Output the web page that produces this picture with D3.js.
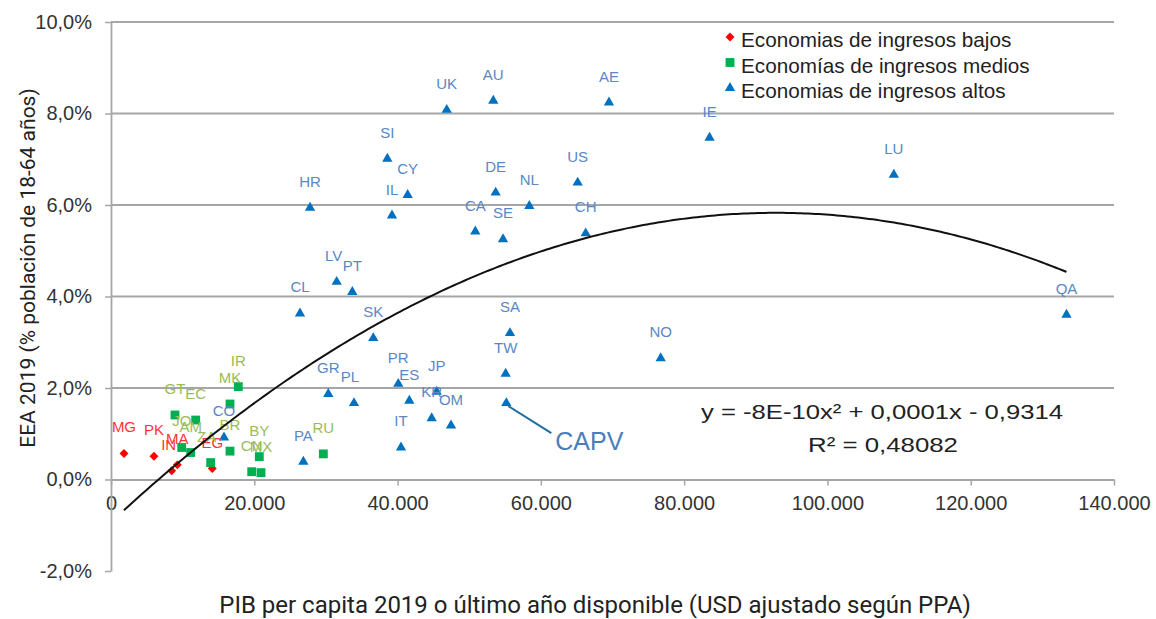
<!DOCTYPE html>
<html>
<head>
<meta charset="utf-8">
<script src="https://cdn.jsdelivr.net/npm/d3@7"></script>
<style>
  html, body { margin: 0; padding: 0; background: #fff; }
  svg { display: block; }
</style>
</head>
<body>
<svg id="chart" width="1156" height="619"></svg>
<script>
// Economías de ingresos bajos
const lowCodes = ["MG", "PK", "MA", "IN", "EG"];
const lowGdp   = [1810, 6000, 9260, 8470, 14140];
const lowEea   = [0.57, 0.51, 0.32, 0.19, 0.24];

// Economías de ingresos medios
const midCodes = ["GT", "EC", "IR", "MK", "JO", "AM", "ZA", "BR", "BY", "CN", "MX", "RU"];
const midGdp   = [8930, 11820, 17770, 16610, 9870, 11120, 13910, 16610, 20700, 19640, 20940, 29640];
const midEea   = [1.41, 1.30, 2.03, 1.65, 0.70, 0.59, 0.37, 0.62, 0.50, 0.17, 0.15, 0.56];

// Economías de ingresos altos
const highCodes = ["UK", "AU", "AE", "IE", "SI", "CY", "IL", "HR", "DE", "NL", "US", "LU",
                   "CA", "SE", "CH", "LV", "PT", "CL", "SK", "QA", "SA", "NO", "TW", "PR",
                   "JP", "GR", "ES", "PL", "KR", "OM", "IT", "CO", "PA"];
const highGdp   = [46860, 53360, 69510, 83550, 38570, 41410, 39220, 27780, 53690, 58390, 65140, 109270,
                   50850, 54720, 66260, 31500, 33680, 26380, 36610, 133370, 55690, 76730, 55090, 40100,
                   45460, 30330, 41640, 33920, 44760, 47460, 40480, 15770, 26850];
const highEea   = [8.08, 8.28, 8.24, 7.47, 7.01, 6.22, 5.77, 5.94, 6.27, 5.98, 6.49, 6.66,
                   5.42, 5.25, 5.38, 4.32, 4.10, 3.63, 3.09, 3.60, 3.20, 2.65, 2.31, 2.09,
                   1.92, 1.87, 1.72, 1.67, 1.34, 1.18, 0.70, 0.92, 0.39];

// Comunidad Autónoma del País Vasco
const capvName = "CAPV";
const capvGdp  = 55180;
const capvEea  = 1.67;

// Tendencia polinómica de grado 2 (y en %, x en USD)
const trendA = -7.85e-10;
const trendB = 1.457e-4;
const trendC = -0.9314;
const trendR2 = 0.48082;

const xTicks = [0, 20000, 40000, 60000, 80000, 100000, 120000, 140000];
const yTicks = [-2, 0, 2, 4, 6, 8, 10];

const legendLabels = ["Economias de ingresos bajos", "Economías de ingresos medios", "Economias de ingresos altos"];

// ---------------------------------------------------------------
const svg = d3.select("#chart");
const esLocale = d3.formatLocale({ decimal: ",", thousands: ".", grouping: [3], currency: ["", "€"], minus: "-" });
const fmtX = esLocale.format(",");
const fmtY = v => esLocale.format(".1f")(v) + "%";

const x = d3.scaleLinear().domain([0, 140000]).range([111, 1114]);
const y = d3.scaleLinear().domain([-2, 10]).range([571, 22]);

const gridColor = "#a6a6a6";
const axisFont = "'Liberation Sans', Arial, sans-serif";
const titleFont = "Roboto, 'Liberation Sans', sans-serif";

// Horizontal gridlines
svg.append("g")
  .selectAll("line")
  .data(yTicks.filter(v => v > 0))
  .join("line")
  .attr("x1", x(0)).attr("x2", x(140000))
  .attr("y1", d => y(d)).attr("y2", d => y(d))
  .attr("stroke", gridColor).attr("stroke-width", 1.8);

// X axis on the zero line
const xAxis = svg.append("g")
  .attr("transform", `translate(0,${y(0)})`)
  .call(d3.axisBottom(x).tickValues(xTicks).tickFormat(d => fmtX(d)).tickSize(6).tickSizeOuter(0).tickPadding(10));
xAxis.select(".domain").attr("stroke", gridColor).attr("stroke-width", 1.8);
xAxis.selectAll(".tick line").attr("stroke", gridColor).attr("stroke-width", 1.5);
xAxis.selectAll(".tick text")
  .attr("font-family", axisFont).attr("font-size", 20).attr("fill", "#333");

// Y axis
const yAxis = svg.append("g")
  .attr("transform", `translate(${x(0)},0)`)
  .call(d3.axisLeft(y).tickValues(yTicks).tickFormat(fmtY).tickSize(6).tickSizeOuter(0).tickPadding(13));
yAxis.select(".domain").attr("stroke", gridColor).attr("stroke-width", 1.8);
yAxis.selectAll(".tick line").attr("stroke", gridColor).attr("stroke-width", 1.5);
yAxis.selectAll(".tick text")
  .attr("font-family", axisFont).attr("font-size", 20).attr("fill", "#333");

// Axis titles
svg.append("text")
  .attr("x", 595).attr("y", 613)
  .attr("text-anchor", "middle")
  .attr("font-family", titleFont).attr("font-size", 24).attr("fill", "#222")
  .text("PIB per capita 2019 o último año disponible (USD ajustado según PPA)");

svg.append("text")
  .attr("transform", "translate(35,268) rotate(-90)")
  .attr("text-anchor", "middle")
  .attr("font-family", titleFont).attr("font-size", 21).attr("fill", "#222")
  .text("EEA 2019 (% población de 18-64 años)");

// Series definitions
const series = [
  { codes: lowCodes,  gdp: lowGdp,  eea: lowEea,  shape: "diamond",  fill: "#ff0000", label: "#ff3333" },
  { codes: midCodes,  gdp: midGdp,  eea: midEea,  shape: "square",   fill: "#00b050", label: "#9bbb59" },
  { codes: highCodes, gdp: highGdp, eea: highEea, shape: "triangle", fill: "#0070c0", label: "#5a87c6" }
];

const symbolPath = {
  diamond:  d3.symbol().type(d3.symbolSquare).size(40)(),
  square:   d3.symbol().type(d3.symbolSquare).size(78)(),
  triangle: d3.symbol().type(d3.symbolTriangle).size(46)()
};
function placeSymbol(sel, shape) {
  sel.attr("d", symbolPath[shape])
    .attr("transform", d => `translate(${x(d.gdp)},${y(d.eea)})${shape === "diamond" ? " rotate(45)" : ""}`);
}

// Small horizontal nudges for crowded labels
const nudge = { IN: -3, ZA: -4, PL: -4, LV: -3 };

series.forEach(s => {
  const pts = s.codes.map((c, i) => ({ code: c, gdp: s.gdp[i], eea: s.eea[i] }));
  svg.append("g").selectAll("path").data(pts).join("path")
    .call(placeSymbol, s.shape)
    .attr("fill", s.fill);
  s.points = pts;
});

series.forEach(s => {
  svg.append("g").selectAll("text").data(s.points).join("text")
    .attr("x", d => x(d.gdp) + (nudge[d.code] || 0))
    .attr("y", d => y(d.eea) - 21)
    .attr("text-anchor", "middle")
    .attr("font-family", axisFont).attr("font-size", 15)
    .attr("fill", s.label)
    .text(d => d.code);
});

// CAPV point with leader line
const capv = [{ gdp: capvGdp, eea: capvEea }];
svg.append("line")
  .attr("x1", x(capvGdp) + 2).attr("y1", y(capvEea) + 3)
  .attr("x2", x(capvGdp) + 45).attr("y2", y(capvEea) + 30)
  .attr("stroke", "#1f6e9c").attr("stroke-width", 2);
svg.append("g").selectAll("path").data(capv).join("path")
  .call(placeSymbol, "triangle")
  .attr("fill", "#0070c0");
svg.append("text")
  .attr("x", x(capvGdp) + 83).attr("y", y(capvEea) + 47)
  .attr("text-anchor", "middle")
  .attr("font-family", axisFont).attr("font-size", 25)
  .attr("fill", "#4a7ebb")
  .text(capvName);

// Quadratic trendline over the observed GDP range
const allGdp = lowGdp.concat(midGdp, highGdp, [capvGdp]);
const [gMin, gMax] = d3.extent(allGdp);
const trend = g => trendA * g * g + trendB * g + trendC;
const trendPts = d3.range(gMin, gMax, 500).concat([gMax]);
svg.append("path")
  .datum(trendPts)
  .attr("fill", "none").attr("stroke", "#111").attr("stroke-width", 2)
  .attr("d", d3.line().x(g => x(g)).y(g => y(trend(g))).curve(d3.curveLinear));

// Trendline equation and R²
const eqText = "y = " + trendA.toExponential(0).toUpperCase() + "x² + "
  + esLocale.format(".4f")(trendB) + "x - " + esLocale.format(".4f")(Math.abs(trendC));
svg.append("text")
  .attr("x", 882).attr("y", 419)
  .attr("text-anchor", "middle")
  .attr("font-family", axisFont).attr("font-size", 21).attr("fill", "#222")
  .attr("textLength", 362).attr("lengthAdjust", "spacingAndGlyphs")
  .text(eqText);
svg.append("text")
  .attr("x", 883).attr("y", 452)
  .attr("text-anchor", "middle")
  .attr("font-family", axisFont).attr("font-size", 21).attr("fill", "#222")
  .attr("textLength", 150).attr("lengthAdjust", "spacingAndGlyphs")
  .text("R² = " + esLocale.format(".5f")(trendR2));

// Legend
const legend = svg.append("g").attr("transform", "translate(730,0)");
const legendRows = legend.selectAll("g").data(series).join("g")
  .attr("transform", (d, i) => `translate(0,${40 + i * 25.5})`);
legendRows.append("path")
  .attr("d", d => symbolPath[d.shape])
  .attr("transform", d => `translate(0,-3)${d.shape === "diamond" ? " rotate(45)" : ""}`)
  .attr("fill", d => d.fill);
legendRows.append("text")
  .attr("x", 11).attr("y", 7)
  .attr("font-family", axisFont).attr("font-size", 20.7).attr("fill", "#222")
  .text((d, i) => legendLabels[i]);
</script>
</body>
</html>
